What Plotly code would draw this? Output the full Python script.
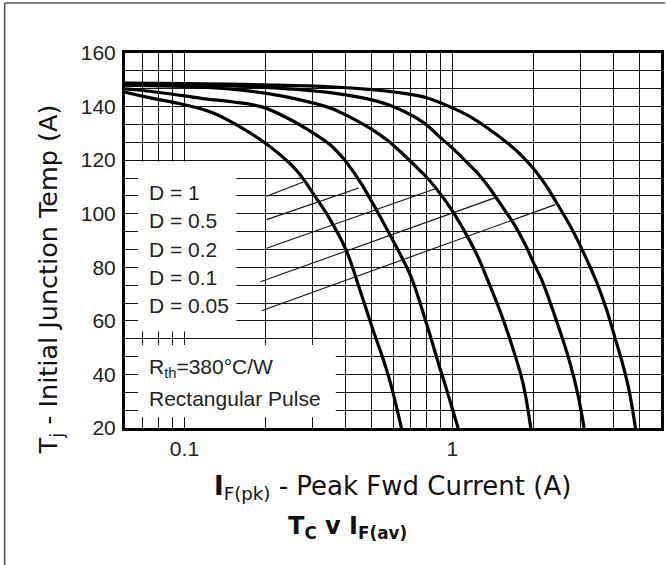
import math
import plotly.graph_objects as go

# ---- data ----
a_x = [0.06, 0.07, 0.1, 0.128, 0.16, 0.2, 0.25, 0.2775, 0.3, 0.344, 0.4, 0.45, 0.505, 0.55, 0.59, 0.645]
a_y = [145.4, 143.8, 140.7, 137.6, 132.6, 126.4, 118.3, 113.0, 108.0, 99.0, 86.7, 72.0, 56.7, 46.0, 36.0, 20.0]

b_x = [0.06, 0.07, 0.1, 0.117, 0.15, 0.196, 0.25, 0.298, 0.352, 0.385, 0.407, 0.455, 0.5, 0.54, 0.6, 0.7, 0.8, 0.9, 0.95, 1.0, 1.05]
b_y = [146.6, 146.0, 144.0, 143.0, 141.8, 139.8, 135.0, 130.5, 125.5, 121.5, 118.5, 111.5, 104.5, 98.5, 90.0, 76.5, 59.0, 42.0, 34.5, 27.0, 20.0]

c_x = [0.06, 0.1, 0.15, 0.2, 0.27, 0.35, 0.42, 0.5, 0.57, 0.65, 0.75, 0.82, 0.9, 1.0, 1.13, 1.25, 1.35, 1.5, 1.64, 1.83, 1.96]
c_y = [148.0, 147.5, 146.5, 145.0, 142.5, 139.5, 135.8, 131.5, 127.5, 122.5, 116.5, 112.5, 107.5, 101.0, 92.0, 83.5, 75.5, 64.0, 53.0, 37.0, 20.0]

d_x = [0.06, 0.1, 0.2, 0.35, 0.5, 0.6, 0.78, 0.9, 1.0, 1.15, 1.27, 1.4, 1.55, 1.7, 1.9, 2.0, 2.17, 2.35, 2.58, 2.75, 2.93, 3.1]
d_y = [148.4, 148.1, 147.2, 145.2, 142.5, 140.0, 134.0, 128.5, 124.5, 118.5, 114.0, 108.5, 102.0, 96.0, 87.0, 82.0, 74.5, 65.0, 53.0, 44.0, 33.0, 20.0]

e_x = [0.06, 0.1, 0.2, 0.35, 0.5, 0.65, 0.8, 1.0, 1.15, 1.35, 1.6, 1.8, 2.0, 2.2, 2.45, 2.8, 3.0, 3.2, 3.45, 3.75, 4.06, 4.3, 4.55, 4.82]
e_y = [148.8, 148.6, 148.1, 147.4, 146.3, 145.0, 143.3, 139.5, 136.5, 132.0, 126.5, 122.0, 117.0, 111.5, 104.0, 94.0, 88.0, 82.0, 74.5, 64.5, 53.0, 44.5, 34.5, 20.0]

# leader lines from the labels to the curves
lead_x0 = [0.2025, 0.2025, 0.2025, 0.192, 0.194]
lead_y0 = [106.5, 97.8, 87.1, 74.6, 63.8]
lead_x1 = [0.2775, 0.447, 0.863, 1.464, 2.42]
lead_y1 = [111.8, 109.6, 109.3, 106.2, 103.4]

duty_labels = ["D = 1", "D = 0.5", "D = 0.2", "D = 0.1", "D = 0.05"]
duty_label_y = [107.8, 97.4, 86.6, 76.1, 65.7]

x_tick_vals = [0.1, 1]
x_tick_text = ["0.1", "1"]
x_minor_vals = [0.07, 0.08, 0.09, 0.2, 0.3, 0.4, 0.5, 0.6, 0.7, 0.8, 0.9, 2, 3, 4, 5]
y_tick_vals = [20, 40, 60, 80, 100, 120, 140, 160]

X_MIN, X_MAX = 0.06, 6.0
Y_MIN, Y_MAX = 20, 160

W, H = 666, 565
ML, MR, MT, MB = 125, 2, 53, 137
PW, PH = W - ML - MR, H - MT - MB


def px_to_paper_x(px):
    return (px - ML) / PW


def py_to_paper_y(py):
    return (H - MB - py) / PH


def yv_to_paper(v):
    return (v - Y_MIN) / (Y_MAX - Y_MIN)


fig = go.Figure()

curve_style = dict(color="black", width=3.2, shape="spline", smoothing=1.0)
for cx, cy in [(a_x, a_y), (b_x, b_y), (c_x, c_y), (d_x, d_y), (e_x, e_y)]:
    fig.add_trace(go.Scatter(x=cx, y=cy, mode="lines", line=curve_style,
                             hoverinfo="skip", showlegend=False))

for x0, y0, x1, y1 in zip(lead_x0, lead_y0, lead_x1, lead_y1):
    fig.add_trace(go.Scatter(x=[x0, x1], y=[y0, y1], mode="lines",
                             line=dict(color="#111", width=1.1),
                             hoverinfo="skip", showlegend=False))

grid_col = "#141414"
grid_w = 1.4
tick_font = dict(family="Liberation Sans, Arial, sans-serif", size=21, color="#222")

fig.update_xaxes(
    type="log",
    range=[math.log10(X_MIN), math.log10(X_MAX)],
    tickvals=x_tick_vals, ticktext=x_tick_text,
    showgrid=True, gridcolor=grid_col, gridwidth=grid_w,
    minor=dict(tickvals=x_minor_vals, showgrid=True, gridcolor=grid_col, gridwidth=grid_w, ticks=""),
    ticks="", showline=True, linewidth=3, linecolor="black", mirror=True,
    zeroline=False, tickfont=tick_font, ticklabelstandoff=0,
)
fig.update_yaxes(
    range=[Y_MIN, Y_MAX],
    tickvals=y_tick_vals,
    showgrid=True, gridcolor=grid_col, gridwidth=grid_w,
    minor=dict(tick0=20, dtick=20 / 3, showgrid=True, gridcolor=grid_col, gridwidth=grid_w, ticks=""),
    ticks="", showline=True, linewidth=3, linecolor="black", mirror=True,
    zeroline=False, tickfont=tick_font, ticklabelstandoff=2,
)

shapes = []
# white label boxes that interrupt the grid
shapes.append(dict(type="rect", xref="paper", yref="paper",
                   x0=px_to_paper_x(138), x1=px_to_paper_x(237),
                   y0=yv_to_paper(56), y1=yv_to_paper(119.5),
                   fillcolor="white", line=dict(width=0), layer="above"))
shapes.append(dict(type="rect", xref="paper", yref="paper",
                   x0=px_to_paper_x(138), x1=px_to_paper_x(337),
                   y0=yv_to_paper(24), y1=yv_to_paper(51),
                   fillcolor="white", line=dict(width=0), layer="above"))
# outer frame (left and top)
shapes.append(dict(type="line", xref="paper", yref="paper",
                   x0=px_to_paper_x(4), x1=px_to_paper_x(4),
                   y0=py_to_paper_y(H + 2), y1=py_to_paper_y(3),
                   line=dict(color="#555", width=1.6), layer="above"))
shapes.append(dict(type="line", xref="paper", yref="paper",
                   x0=px_to_paper_x(4), x1=px_to_paper_x(W + 2),
                   y0=py_to_paper_y(3), y1=py_to_paper_y(3),
                   line=dict(color="#555", width=1.6), layer="above"))

label_font = dict(family="Liberation Sans, Arial, sans-serif", size=21, color="#222")
ytitle_font = dict(family="DejaVu Sans, sans-serif", size=25.5, color="#111")
xtitle_font = dict(family="DejaVu Sans, sans-serif", size=26, color="#111")
sub_title_font = dict(family="DejaVu Sans, sans-serif", size=24, color="#111")

annotations = []
for txt, yv in zip(duty_labels, duty_label_y):
    annotations.append(dict(text=txt, xref="paper", yref="y", x=px_to_paper_x(147), y=yv,
                            xanchor="left", yanchor="middle", showarrow=False, font=label_font))
annotations.append(dict(text="R<sub>th</sub>=380°C/W", xref="paper", yref="y",
                        x=px_to_paper_x(147), y=42.4, xanchor="left", yanchor="middle",
                        showarrow=False, font=label_font))
annotations.append(dict(text="Rectangular Pulse", xref="paper", yref="y",
                        x=px_to_paper_x(147), y=31.1, xanchor="left", yanchor="middle",
                        showarrow=False, font=label_font))

annotations.append(dict(text="T<sub>j</sub> - Initial Junction Temp (A)", textangle=-90,
                        xref="paper", yref="paper", x=px_to_paper_x(49), y=py_to_paper_y(279),
                        xanchor="center", yanchor="middle", showarrow=False, font=ytitle_font))
annotations.append(dict(text="<b>I</b><sub>F(pk)</sub> - Peak Fwd Current (A)",
                        xref="paper", yref="paper", x=px_to_paper_x(394), y=py_to_paper_y(487),
                        xanchor="center", yanchor="middle", showarrow=False, font=xtitle_font))
annotations.append(dict(text="<b>T<sub>C</sub> v I<sub>F(av)</sub></b>",
                        xref="paper", yref="paper", x=px_to_paper_x(349), y=py_to_paper_y(527),
                        xanchor="center", yanchor="middle", showarrow=False, font=sub_title_font))

fig.update_layout(
    width=W, height=H,
    margin=dict(l=ML, r=MR, t=MT, b=MB),
    paper_bgcolor="white", plot_bgcolor="white",
    shapes=shapes, annotations=annotations,
    showlegend=False,
)

fig.write_html("out.html", config={"displayModeBar": False},
               post_script="document.body.style.margin='0px';")
